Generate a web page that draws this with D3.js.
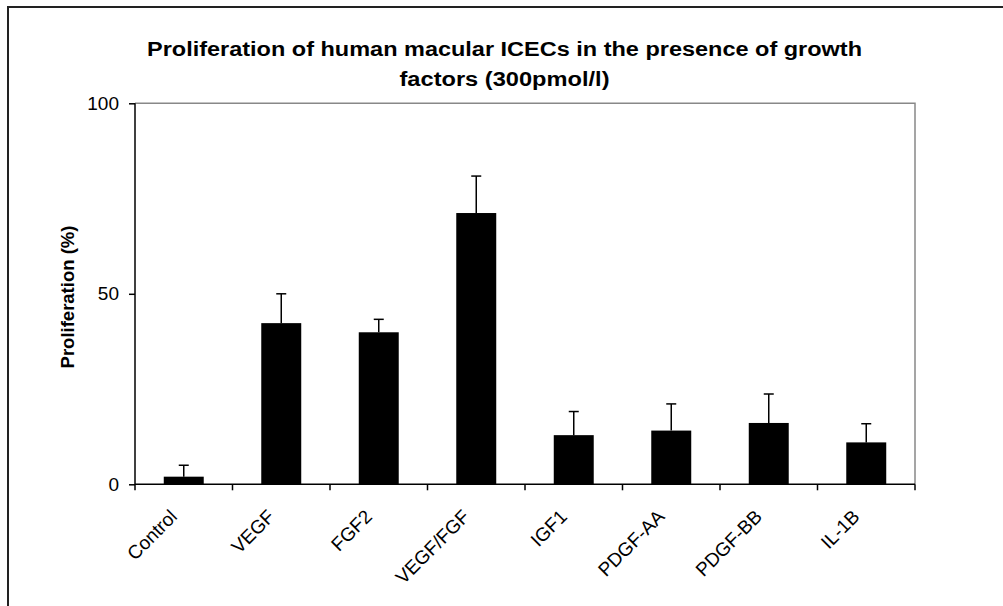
<!DOCTYPE html>
<html>
<head>
<meta charset="utf-8">
<script src="https://cdn.jsdelivr.net/npm/d3@7"></script>
<style>
  html, body { margin: 0; padding: 0; background: #fff; }
  svg { display: block; font-family: "Liberation Sans", Arial, sans-serif; }
</style>
</head>
<body>
<svg id="chart" width="1003" height="606"></svg>
<script>
// Growth factor treatments on the x axis
const categories = ["Control", "VEGF", "FGF2", "VEGF/FGF", "IGF1", "PDGF-AA", "PDGF-BB", "IL-1B"];
// Mean proliferation (%) for each treatment
const meanValues = [2.0, 42.3, 39.9, 71.2, 12.9, 14.1, 16.1, 11.0];
// Upper error bar length (%) for each treatment
const errorValues = [3.0, 7.7, 3.4, 9.7, 6.2, 7.0, 7.6, 4.9];
// Y axis ticks
const yTicks = [0, 50, 100];
// Title lines
const titleLines = [
  "Proliferation of human macular ICECs in the presence of growth",
  "factors (300pmol/l)"
];

const svg = d3.select("#chart");

// Chart border (only left and top edges fall inside the page)
svg.append("rect")
  .attr("x", 8).attr("y", 7)
  .attr("width", 1020).attr("height", 620)
  .attr("fill", "none")
  .attr("stroke", "#222")
  .attr("stroke-width", 2);

const plot = { left: 135, right: 915, top: 103.3, bottom: 484.3 };

const x = d3.scaleBand()
  .domain(categories)
  .range([plot.left, plot.right])
  .padding(0);

const y = d3.scaleLinear()
  .domain([0, 100])
  .range([plot.bottom, plot.top]);

const barWidth = x.bandwidth() * 0.41;

// Plot area frame: grey top and right edges
svg.append("path")
  .attr("d", `M${plot.left},${y(100)}H${plot.right}V${y(0)}`)
  .attr("fill", "none")
  .attr("stroke", "#888")
  .attr("stroke-width", 1.5);

// Bars
svg.append("g")
  .selectAll("rect")
  .data(categories)
  .join("rect")
  .attr("x", (d) => x(d) + (x.bandwidth() - barWidth) / 2)
  .attr("y", (d, i) => y(meanValues[i]))
  .attr("width", barWidth)
  .attr("height", (d, i) => y(0) - y(meanValues[i]))
  .attr("fill", "#000");

// Upper error bars
const capHalf = 5;
const errG = svg.append("g")
  .attr("stroke", "#000")
  .attr("stroke-width", 1.5);
errG.selectAll("line.stem")
  .data(categories)
  .join("line")
  .attr("class", "stem")
  .attr("x1", (d) => x(d) + x.bandwidth() / 2)
  .attr("x2", (d) => x(d) + x.bandwidth() / 2)
  .attr("y1", (d, i) => y(meanValues[i]))
  .attr("y2", (d, i) => y(meanValues[i] + errorValues[i]));
errG.selectAll("line.cap")
  .data(categories)
  .join("line")
  .attr("class", "cap")
  .attr("x1", (d) => x(d) + x.bandwidth() / 2 - capHalf)
  .attr("x2", (d) => x(d) + x.bandwidth() / 2 + capHalf)
  .attr("y1", (d, i) => y(meanValues[i] + errorValues[i]))
  .attr("y2", (d, i) => y(meanValues[i] + errorValues[i]));

// Y axis
const yAxis = svg.append("g")
  .attr("transform", `translate(${plot.left},0)`)
  .call(d3.axisLeft(y).tickValues(yTicks).tickSize(6).tickPadding(10));
yAxis.select(".domain").attr("stroke", "#000").attr("stroke-width", 1.5)
  .attr("d", `M0,${y(100)}V${y(0)}`);
yAxis.selectAll(".tick line").attr("stroke", "#000").attr("stroke-width", 1.5);
yAxis.selectAll(".tick text")
  .attr("font-size", 19)
  .attr("fill", "#000")
  .style("font-family", "Liberation Sans, Arial, sans-serif");

// X axis: line and ticks at category boundaries
const xAxisG = svg.append("g");
xAxisG.append("line")
  .attr("x1", plot.left).attr("x2", plot.right)
  .attr("y1", y(0)).attr("y2", y(0))
  .attr("stroke", "#000").attr("stroke-width", 1.5);
const boundaries = categories.map((d) => x(d)).concat([x(categories[categories.length - 1]) + x.bandwidth()]);
xAxisG.selectAll("line.tick")
  .data(boundaries)
  .join("line")
  .attr("class", "tick")
  .attr("x1", (d) => d).attr("x2", (d) => d)
  .attr("y1", y(0)).attr("y2", y(0) + 6)
  .attr("stroke", "#000").attr("stroke-width", 1.5);

// Rotated category labels
xAxisG.selectAll("text")
  .data(categories)
  .join("text")
  .attr("transform", (d) => `translate(${x(d) + x.bandwidth() / 2 - 15},${y(0) + 24}) rotate(-45)`)
  .attr("text-anchor", "end")
  .attr("dy", "0.71em")
  .attr("font-size", 19)
  .attr("fill", "#000")
  .text((d) => d);

// Y axis title
svg.append("text")
  .attr("transform", `translate(74,297) rotate(-90)`)
  .attr("text-anchor", "middle")
  .attr("font-size", 18.5)
  .attr("font-weight", "bold")
  .attr("fill", "#000")
  .text("Proliferation (%)");

// Chart title, two lines, set in a wide bold face
const titleWidths = [715, 210];
const titleBaselines = [56, 86];
svg.append("g")
  .selectAll("text")
  .data(titleLines)
  .join("text")
  .attr("x", 504.5)
  .attr("y", (d, i) => titleBaselines[i])
  .attr("text-anchor", "middle")
  .attr("textLength", (d, i) => titleWidths[i])
  .attr("lengthAdjust", "spacingAndGlyphs")
  .attr("font-size", 20)
  .attr("font-weight", "bold")
  .attr("fill", "#000")
  .text((d) => d);
</script>
</body>
</html>
